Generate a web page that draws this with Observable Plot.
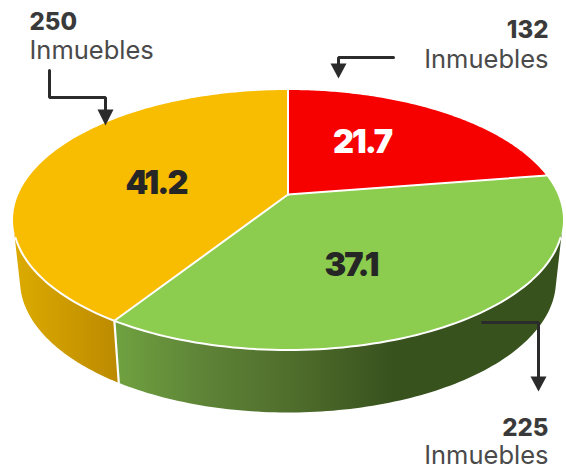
<!DOCTYPE html>
<html><head><meta charset="utf-8">
<script src="https://cdn.jsdelivr.net/npm/d3@7"></script>
<script src="https://cdn.jsdelivr.net/npm/@observablehq/plot@0.6"></script>
<style>html,body{margin:0;padding:0;background:#fff}svg{display:block}</style>
</head><body><div id="chart"></div>
<script>
const categories = ["Rojo", "Verde", "Amarillo"];
const shares = [21.7, 37.1, 41.2];
const counts = [132, 225, 250];
const unitLabel = "Inmuebles";
const topColors = ["#f70000", "#8ccc4e", "#f8bc00"];
const shareInk = ["#ffffff", "#262626", "#262626"];

// layout (pixel space of the frame)
const W = 566, H = 471;
const top_ = {cx: 287.5, cy: 219.5, rx: 275, ry: 130};
const bot_ = {cx: 287.5, cy: 280, rx: 268, ry: 132};
const persp = 0.196, skew = 3 * Math.PI / 180;
const deg = Math.PI / 180;
const FONT = "Inter, sans-serif";

// circle angle (clockwise from the top) -> ellipse parameter after a perspective map
function persMap(theta) {
  const t = theta + skew * Math.sin(theta) ** 2;
  const u = Math.sin(t), v = Math.cos(t), d = 1 + persp * v;
  return {u: u * Math.sqrt(1 - persp * persp) / d, v: (v + persp) / d};
}
const onEllipse = (e, p) => ({x: e.cx + e.rx * p.u, y: e.cy - e.ry * p.v});
const apex = onEllipse(top_, {u: 0, v: persp});

const total = d3.sum(shares);
let acc = 0;
const slices = shares.map((s, i) => {
  const a0 = acc / total * 2 * Math.PI; acc += s;
  return {i, a0, a1: acc / total * 2 * Math.PI};
});

function facePoints(sl) {
  const n = 120, pts = [apex];
  for (let k = 0; k <= n; k++) pts.push(onEllipse(top_, persMap(sl.a0 + (sl.a1 - sl.a0) * k / n)));
  pts.push(apex);
  return pts;
}
function arc(e, phi0, phi1) {
  const n = 100, pts = [];
  for (let k = 0; k <= n; k++) {
    const f = phi0 + (phi1 - phi0) * k / n;
    pts.push(onEllipse(e, {u: Math.cos(f), v: Math.sin(f)}));
  }
  return pts;
}
const paramOf = a => { const p = persMap(a); let f = Math.atan2(p.v, p.u); return f < 0 ? f + 2 * Math.PI : f; };

const junction = paramOf(slices[1].a1);
const yellowWall = [...arc(top_, 185 * deg, junction), ...arc(bot_, 184 * deg, junction).reverse()];
const greenWall = [...arc(top_, junction, 355 * deg), ...arc(bot_, junction, 356 * deg).reverse()];
const rimFront = arc(top_, 188 * deg, 352 * deg);
const jp = {u: Math.cos(junction), v: Math.sin(junction)};
const seam = [onEllipse(top_, jp), onEllipse(bot_, jp)];

const countLabels = [
  {t: String(counts[2]), x: 29, y: 29, a: "start"},
  {t: String(counts[0]), x: 548, y: 37, a: "end"},
  {t: String(counts[1]), x: 548, y: 435, a: "end"}
];
const unitLabels = [
  {t: unitLabel, x: 29, y: 58, a: "start"},
  {t: unitLabel, x: 548, y: 67, a: "end"},
  {t: unitLabel, x: 548, y: 463, a: "end"}
];
const sharePos = [{x: 361.5, y: 152}, {x: 350.5, y: 275}, {x: 155.5, y: 193}];
const arrows = [
  {line: [[49,70],[49,97],[105,97],[105,110]], head: [[97,109],[113,109],[105,125]]},
  {line: [[393,57],[338,57],[338,64]], head: [[330,63],[346,63],[338,78]]},
  {line: [[482,322],[538,322],[538,377]], head: [[530,376],[546,376],[538,391]]}
];

const defs = () => {
  const d = d3.create("svg:defs");
  const grad = (id, stops) => {
    const g = d.append("linearGradient").attr("id", id).attr("x1", 0).attr("x2", 1).attr("y1", 0).attr("y2", 0);
    stops.forEach(([o, c]) => g.append("stop").attr("offset", o).attr("stop-color", c));
  };
  grad("wallYellow", [[0, "#dcab00"], [1, "#bc8a00"]]);
  grad("wallGreen", [[0, "#70a240"], [0.2, "#5e8337"], [0.42, "#4d6b2a"], [0.62, "#38521e"], [1, "#38521e"]]);
  return d.node();
};

const xy = {x: "x", y: "y"};
const textMarks = (rows, o) => ["start", "end"].map(a =>
  Plot.text(rows.filter(d => d.a === a), {x: "x", y: "y", text: "t", textAnchor: a, lineAnchor: "bottom", fontFamily: FONT, ...o}));

const plot = Plot.plot({
  width: W, height: H, margin: 0,
  x: {domain: [0, W], range: [0, W], axis: null},
  y: {domain: [0, H], range: [0, H], axis: null},
  marks: [
    defs,
    Plot.line(yellowWall, {...xy, fill: "url(#wallYellow)", stroke: null}),
    Plot.line(greenWall, {...xy, fill: "url(#wallGreen)", stroke: null}),
    Plot.line(seam, {...xy, stroke: "#ffffff", strokeWidth: 2.2}),
    ...slices.map(sl => Plot.line(facePoints(sl), {...xy, fill: topColors[sl.i], stroke: null})),
    ...slices.map(sl => Plot.line([
        onEllipse(top_, persMap(sl.a0)), apex
      ], {...xy, stroke: "#ffffff", strokeWidth: 2})),
    Plot.line(rimFront, {...xy, stroke: "#ffffff", strokeWidth: 2}),
    ...arrows.flatMap(a => [
      Plot.line(a.line, {x: d => d[0], y: d => d[1], stroke: "#2b2b2b", strokeWidth: 3, strokeLinejoin: "miter"}),
      Plot.line(a.head, {x: d => d[0], y: d => d[1], fill: "#2b2b2b", stroke: null})
    ]),
    ...textMarks(unitLabels, {fontSize: 25.5, fontWeight: 400, fill: "#4a4a4a"}),
    ...textMarks(countLabels, {fontSize: 24, fontWeight: 800, fill: "#3a3a3a"}),
    Plot.text(shares.map((s, i) => ({s: s.toFixed(1), ink: shareInk[i], ...sharePos[i]})), {
      x: "x", y: "y", text: "s", fill: "ink", fontFamily: FONT, fontSize: 32.5, fontWeight: 900, lineAnchor: "bottom",
      render(index, scales, values, dims, ctx, next) {
        const g = next(index, scales, values, dims, ctx);
        g.style.letterSpacing = "-2px";
        return g;
      }
    })
  ]
});
document.getElementById("chart").appendChild(plot);
</script></body></html>
